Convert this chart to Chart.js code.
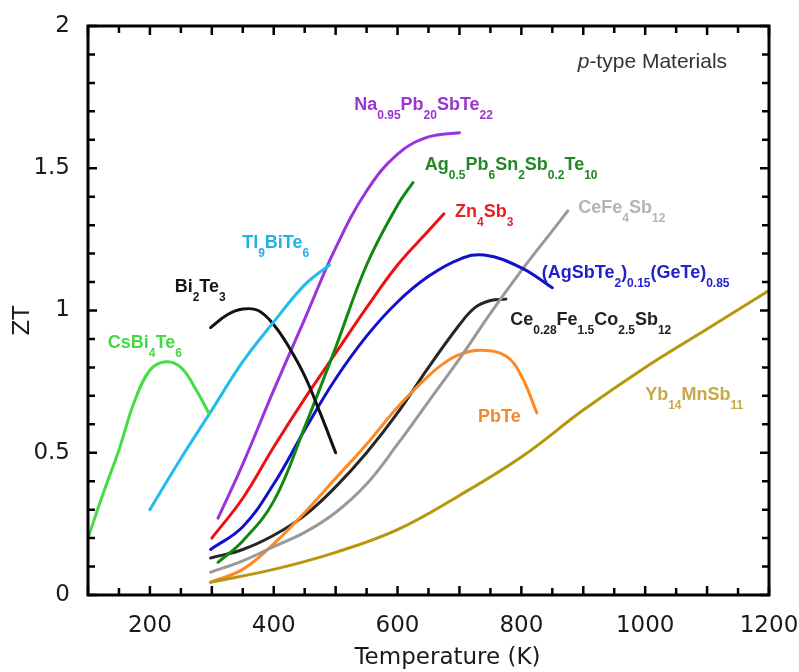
<!DOCTYPE html>
<html><head><meta charset="utf-8">
<script src="https://cdn.jsdelivr.net/npm/chart.js@4.4.0/dist/chart.umd.min.js"></script>
<style>html,body{margin:0;padding:0;background:#fff}canvas{display:block}</style>
</head><body>
<canvas id="c" width="799" height="672"></canvas>
<script>
// ---- data ----
const xTickLabels = [200, 400, 600, 800, 1000, 1200];
const yTickLabels = [0, 0.5, 1, 1.5, 2];
const xTitle = 'Temperature (K)';
const yTitle = 'ZT';

const csBiTeT  = [100, 125, 150, 175, 200, 225, 250, 275, 295];
const csBiTeZT = [0.20, 0.36, 0.51, 0.68, 0.79, 0.82, 0.80, 0.72, 0.64];

const tlBiTeT  = [200, 250, 300, 350, 400, 450, 490];
const tlBiTeZT = [0.30, 0.48, 0.65, 0.82, 0.96, 1.09, 1.16];

const bi2Te3T  = [298, 325, 350, 375, 400, 425, 450, 475, 500];
const bi2Te3ZT = [0.94, 0.985, 1.005, 1.0, 0.95, 0.87, 0.77, 0.64, 0.50];

const naPbT  = [310, 350, 400, 450, 500, 550, 600, 650, 700];
const naPbZT = [0.27, 0.46, 0.72, 0.97, 1.22, 1.42, 1.55, 1.61, 1.625];

const agPbSnT  = [310, 350, 400, 450, 500, 550, 600, 625];
const agPbSnZT = [0.115, 0.19, 0.33, 0.59, 0.87, 1.16, 1.37, 1.45];

const zn4Sb3T  = [300, 350, 400, 450, 500, 550, 600, 650, 675];
const zn4Sb3ZT = [0.20, 0.34, 0.52, 0.69, 0.85, 1.01, 1.16, 1.28, 1.34];

const tagsT  = [298, 350, 400, 450, 500, 550, 600, 650, 700, 740, 800, 850];
const tagsZT = [0.16, 0.24, 0.39, 0.58, 0.76, 0.91, 1.03, 1.12, 1.18, 1.195, 1.15, 1.08];

const ceFeCoT  = [298, 350, 400, 450, 500, 550, 600, 650, 700, 725, 750, 775];
const ceFeCoZT = [0.13, 0.16, 0.21, 0.28, 0.38, 0.50, 0.64, 0.80, 0.95, 1.01, 1.035, 1.04];

const ceFe4T  = [298, 350, 400, 450, 500, 550, 600, 650, 700, 750, 800, 850, 875];
const ceFe4ZT = [0.08, 0.12, 0.17, 0.22, 0.29, 0.39, 0.53, 0.68, 0.83, 0.99, 1.14, 1.28, 1.35];

const pbTeT  = [298, 350, 400, 450, 500, 550, 600, 650, 675, 700, 735, 775, 800, 825];
const pbTeZT = [0.045, 0.09, 0.18, 0.29, 0.41, 0.53, 0.66, 0.77, 0.815, 0.845, 0.86, 0.84, 0.77, 0.64];

const ybMnT  = [298, 400, 500, 600, 700, 800, 900, 1000, 1100, 1200];
const ybMnZT = [0.045, 0.09, 0.15, 0.23, 0.35, 0.485, 0.65, 0.80, 0.935, 1.07];

// ---- series table built from the arrays ----
const series = [
  {T: csBiTeT, ZT: csBiTeZT, color: '#44dd44'},
  {T: tlBiTeT, ZT: tlBiTeZT, color: '#22bbee'},
  {T: bi2Te3T, ZT: bi2Te3ZT, color: '#111111'},
  {T: naPbT,   ZT: naPbZT,   color: '#9933dd'},
  {T: agPbSnT, ZT: agPbSnZT, color: '#118811'},
  {T: zn4Sb3T, ZT: zn4Sb3ZT, color: '#ee1111'},
  {T: tagsT,   ZT: tagsZT,   color: '#1111cc'},
  {T: ybMnT,   ZT: ybMnZT,   color: '#b8960c'},
  {T: ceFe4T,  ZT: ceFe4ZT,  color: '#999999'},
  {T: pbTeT,   ZT: pbTeZT,   color: '#ff8822'},
  {T: ceFeCoT, ZT: ceFeCoZT, color: '#262626'},
];

// ---- labels (anchored in data coordinates) ----
const labels = [
  {text: 'CsBi_{4}Te_{6}', T: 132, ZT: 0.868, color: '#44d944'},
  {text: 'Tl_{9}BiTe_{6}', T: 349, ZT: 1.219, color: '#22b0e6'},
  {text: 'Bi_{2}Te_{3}', T: 240, ZT: 1.065, color: '#151515'},
  {text: 'Na_{0.95}Pb_{20}SbTe_{22}', T: 530, ZT: 1.704, color: '#9a36cf'},
  {text: 'Ag_{0.5}Pb_{6}Sn_{2}Sb_{0.2}Te_{10}', T: 644, ZT: 1.493, color: '#228822'},
  {text: 'Zn_{4}Sb_{3}', T: 693, ZT: 1.328, color: '#e82020'},
  {text: 'CeFe_{4}Sb_{12}', T: 892, ZT: 1.342, color: '#b4b4b4'},
  {text: '(AgSbTe_{2})_{0.15}(GeTe)_{0.85}', T: 833, ZT: 1.114, color: '#2222cc'},
  {text: 'Ce_{0.28}Fe_{1.5}Co_{2.5}Sb_{12}', T: 782, ZT: 0.949, color: '#222222'},
  {text: 'PbTe', T: 730, ZT: 0.609, color: '#f08a2e'},
  {text: 'Yb_{14}MnSb_{11}', T: 1000, ZT: 0.686, color: '#c8a84a'},
];
const noteLabel = {T: 891, ZT: 1.851};

const FONT = '"Liberation Sans", Arial, Helvetica, sans-serif';
const AXFONT = '"DejaVu Sans", "Liberation Sans", Arial, sans-serif';

function drawRich(ctx, str, x, y, size, subSize, drop) {
  const parts = str.split(/(_\{[^}]*\})/).filter(s => s.length);
  let cx = x;
  for (const p of parts) {
    const sub = p.startsWith('_{');
    const t = sub ? p.slice(2, -1) : p;
    ctx.font = `bold ${sub ? subSize : size}px ${FONT}`;
    ctx.fillText(t, cx, sub ? y + drop : y);
    cx += ctx.measureText(t).width;
  }
}

const framePlugin = {
  id: 'frame',
  afterDraw(chart) {
    const {ctx, chartArea: a, scales: {x, y}} = chart;
    ctx.save();
    // labels
    ctx.textBaseline = 'alphabetic';
    ctx.textAlign = 'left';
    for (const l of labels) {
      ctx.fillStyle = l.color;
      drawRich(ctx, l.text, x.getPixelForValue(l.T), y.getPixelForValue(l.ZT), 18, 12, 9);
    }
    // p-type note
    ctx.fillStyle = '#333';
    let nx = x.getPixelForValue(noteLabel.T), ny = y.getPixelForValue(noteLabel.ZT);
    ctx.font = `italic 21px ${FONT}`;
    ctx.fillText('p', nx, ny);
    nx += ctx.measureText('p').width;
    ctx.font = `21px ${FONT}`;
    ctx.fillText('-type Materials', nx, ny);

    // axis titles
    ctx.fillStyle = '#1a1a1a';
    ctx.font = `23px ${AXFONT}`;
    ctx.textAlign = 'center';
    ctx.textBaseline = 'middle';
    ctx.fillText(xTitle, (a.left + a.right) / 2 + 19, 658);
    ctx.save();
    ctx.translate(23, (a.top + a.bottom) / 2 + 10);
    ctx.rotate(-Math.PI / 2);
    ctx.fillText(yTitle, 0, 0);
    ctx.restore();

    // box
    ctx.strokeStyle = '#000';
    ctx.lineWidth = 3;
    ctx.strokeRect(a.left, a.top, a.right - a.left, a.bottom - a.top);
    // ticks
    ctx.lineWidth = 2.5;
    ctx.beginPath();
    for (let t = x.min; t <= x.max + 0.01; t += 50) {
      const px = x.getPixelForValue(t);
      const len = (t % 100 === 0) ? 9 : 7;
      ctx.moveTo(px, a.bottom); ctx.lineTo(px, a.bottom - len);
      ctx.moveTo(px, a.top); ctx.lineTo(px, a.top + len);
    }
    for (let k = 0; k <= 20; k++) {
      const py = y.getPixelForValue(k / 10);
      const len = (k % 5 === 0) ? 9 : 7;
      ctx.moveTo(a.left, py); ctx.lineTo(a.left + len, py);
      ctx.moveTo(a.right, py); ctx.lineTo(a.right - len, py);
    }
    ctx.stroke();
    ctx.restore();
  }
};

new Chart(document.getElementById('c'), {
  type: 'line',
  data: {
    datasets: series.map(s => ({
      data: s.T.map((t, i) => ({x: t, y: s.ZT[i]})),
      borderColor: s.color,
      borderWidth: 3,
      pointRadius: 0,
      fill: false,
      tension: 0.4,
      borderCapStyle: 'round',
    })),
  },
  options: {
    responsive: false,
    animation: false,
    layout: {padding: {top: 26, right: 30, left: 0, bottom: 0}},
    plugins: {legend: {display: false}, tooltip: {enabled: false}},
    scales: {
      x: {
        type: 'linear', min: 100, max: 1200,
        grid: {display: false, drawTicks: false},
        border: {display: false},
        ticks: {
          stepSize: 100, autoSkip: false, maxRotation: 0, padding: 17,
          color: '#1a1a1a', font: {family: AXFONT, size: 23},
          callback: v => xTickLabels.includes(v) ? String(v) : '',
        },
        afterFit: s => { s.height = 77; s.paddingLeft = 0; s.paddingRight = 0; },
      },
      y: {
        min: 0, max: 2,
        grid: {display: false, drawTicks: false},
        border: {display: false},
        ticks: {
          stepSize: 0.5, padding: 18,
          color: '#1a1a1a', font: {family: AXFONT, size: 23},
          callback: v => yTickLabels.includes(v) ? String(v) : '',
        },
        afterFit: s => { s.width = 88; s.paddingTop = 0; s.paddingBottom = 0; },
      },
    },
  },
  plugins: [framePlugin],
});
</script>
</body></html>
